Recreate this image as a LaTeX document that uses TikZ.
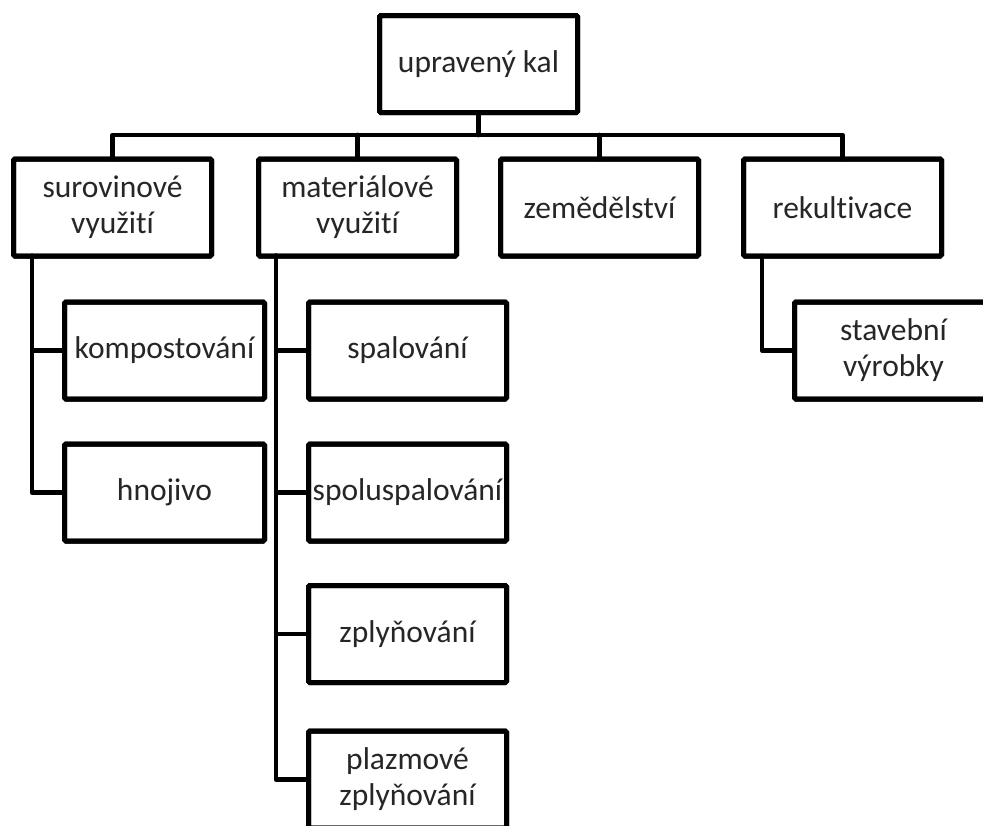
\documentclass[tikz,border=0pt]{standalone}
\usepackage{fontspec}
\setmainfont{Carlito}[Ligatures=NoCommon]
\begin{document}
\begin{tikzpicture}[x=1pt,y=-1pt,
  box/.style={draw=black,line width=5pt,rounded corners=1.5pt,fill=white,
    minimum width=198pt,minimum height=97pt,inner sep=0pt,outer sep=0pt,
    align=center,text=black!85,font=\fontsize{31.5}{36}\selectfont},
  link/.style={draw=black,line width=4.8pt,line join=round,line cap=round}]
\useasboundingbox (0,0) rectangle (983,825);
\clip (0,0) rectangle (983,825);
\fill[white] (0,0) rectangle (983,825);

% root and first level
\node[box] (top) at (478.5,64) {upravený kal};
\node[box] (sur) at (112.5,207.5) {surovinové\\využití};
\node[box] (mat) at (357.5,207.5) {materiálové\\využití};
\node[box] (zem) at (599.5,207.5) {zemědělství};
\node[box] (rek) at (842.5,207.5) {rekultivace};

% second level
\node[box,minimum width=200pt] (komp) at (164.5,350.5) {kompostování};
\node[box,minimum width=200pt] (hnoj) at (164.5,492.5) {hnojivo};
\node[box] (spal) at (407.5,350.5) {spalování};
\node[box] (spol) at (407.5,492.5) {spoluspalování};
\node[box] (zply) at (407.5,634) {zplyňování};
\node[box] (plaz) at (407.5,779.5) {plazmové\\zplyňování};
\node[box] (stav) at (893.5,350.5) {stavební\\výrobky};

% bus below the root
\coordinate (bus) at (0,135);
\draw[link] (top.south) -- (top.south |- bus);
\draw[link] (sur.north) -- (sur.north |- bus) -- (rek.north |- bus) -- (rek.north);
\draw[link] (mat.north) -- (mat.north |- bus);
\draw[link] (zem.north) -- (zem.north |- bus);

% vertical stems of the sub-branches
\coordinate (surT) at ([xshift=18.5pt]sur.south west);
\coordinate (matT) at ([xshift=17.5pt]mat.south west);
\coordinate (rekT) at ([xshift=18.5pt]rek.south west);

\draw[link] (surT) |- (komp.west);
\draw[link] (surT) |- (hnoj.west);
\draw[link] (matT) |- (spal.west);
\draw[link] (matT) |- (spol.west);
\draw[link] (matT) |- (zply.west);
\draw[link] (matT) |- (plaz.west);
\draw[link] (rekT) |- (stav.west);

% redraw the box outlines over the connector ends
\foreach \n in {top,sur,mat,zem,rek,komp,hnoj,spal,spol,zply,plaz,stav}
  \draw[line width=5pt,rounded corners=1.5pt]
    (\n.south west) rectangle (\n.north east);
\end{tikzpicture}
\end{document}
